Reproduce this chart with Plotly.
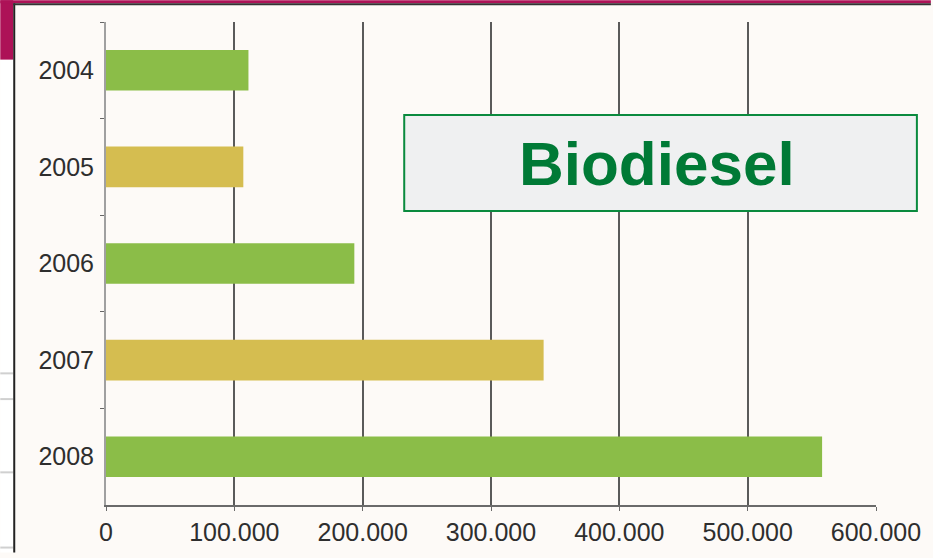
import plotly.graph_objects as go

years = ["2004", "2005", "2006", "2007", "2008"]
values = [111000, 107000, 193500, 341000, 558000]
bar_colors = ["#8bbd48", "#d5bd50", "#8bbd48", "#d5bd50", "#8bbd48"]
x_ticks = [0, 100000, 200000, 300000, 400000, 500000, 600000]
title_text = "Biodiesel"

W, H = 933, 558
ML, MR, MT, MB = 106, 55, 22, 48
PW, PH = W - ML - MR, H - MT - MB


def px(x):
    return (x - ML) / PW


def py(y):
    return (H - MB - y) / PH


fig = go.Figure(
    go.Bar(
        x=values,
        y=years,
        orientation="h",
        marker=dict(color=bar_colors, line=dict(width=0)),
        width=0.42,
    )
)

shapes = []
# white strip on the left
shapes.append(dict(type="rect", xref="paper", yref="paper", x0=px(0), x1=px(13), y0=py(H), y1=py(0),
                   fillcolor="#ffffff", line=dict(width=0), layer="below"))
# light gray lines at left
for yy in [377, 403, 477, 553]:
    shapes.append(dict(type="line", xref="paper", yref="paper", x0=px(0), x1=px(13), y0=py(yy), y1=py(yy),
                       line=dict(color="#d0d0d0", width=2)))
# maroon block + strip
shapes.append(dict(type="rect", xref="paper", yref="paper", x0=px(0), x1=px(13), y0=py(60), y1=py(0),
                   fillcolor="#ad1257", line=dict(width=0)))
shapes.append(dict(type="rect", xref="paper", yref="paper", x0=px(0), x1=px(W), y0=py(3), y1=py(0),
                   fillcolor="#ad1257", line=dict(width=0)))
# dark frame lines
shapes.append(dict(type="line", xref="paper", yref="paper", x0=px(14), x1=px(14), y0=py(3), y1=py(H),
                   line=dict(color="#222222", width=2)))
shapes.append(dict(type="line", xref="paper", yref="paper", x0=px(13), x1=px(W), y0=py(4), y1=py(4),
                   line=dict(color="#333333", width=2)))
# title box
shapes.append(dict(type="rect", xref="paper", yref="paper", x0=px(405), x1=px(919), y0=py(213), y1=py(116),
                   fillcolor="#eff0f1", line=dict(color="#0a8a3e", width=2)))

fig.update_layout(
    width=W,
    height=H,
    margin=dict(l=ML, r=MR, t=MT, b=MB, pad=0),
    paper_bgcolor="#fdfaf7",
    plot_bgcolor="#fdfaf7",
    separators=",.",
    showlegend=False,
    shapes=shapes,
    annotations=[
        dict(text="<b>" + title_text + "</b>", xref="paper", yref="paper",
             x=px(658), y=py(165), xanchor="center", yanchor="middle", showarrow=False,
             font=dict(family="Liberation Sans, Arial, sans-serif", size=62, color="#007a36"))
    ],
    xaxis=dict(
        range=[0, 600000],
        tickvals=x_ticks,
        tickformat=",d",
        showgrid=True,
        gridcolor="#5a5a5a",
        gridwidth=2,
        zeroline=False,
        showline=True,
        linecolor="#6a6a6a",
        linewidth=2,
        ticks="outside",
        ticklen=4,
        tickcolor="#6a6a6a",
        tickfont=dict(family="Liberation Sans, Arial, sans-serif", size=25, color="#2e2e2e"),
        fixedrange=True,
    ),
    yaxis=dict(
        type="category",
        categoryorder="array",
        categoryarray=years,
        autorange="reversed",
        showline=True,
        linecolor="#a0a0a0",
        linewidth=2,
        showgrid=False,
        ticks="outside",
        tickson="boundaries",
        ticklen=4,
        tickcolor="#666666",
        tickfont=dict(family="Liberation Sans, Arial, sans-serif", size=25, color="#2e2e2e"),
        ticklabelstandoff=5,
        fixedrange=True,
    ),
)

fig.write_html(
    "out.html",
    config={"displayModeBar": False},
    post_script="document.body.style.margin='0px';document.body.style.padding='0px';",
)
